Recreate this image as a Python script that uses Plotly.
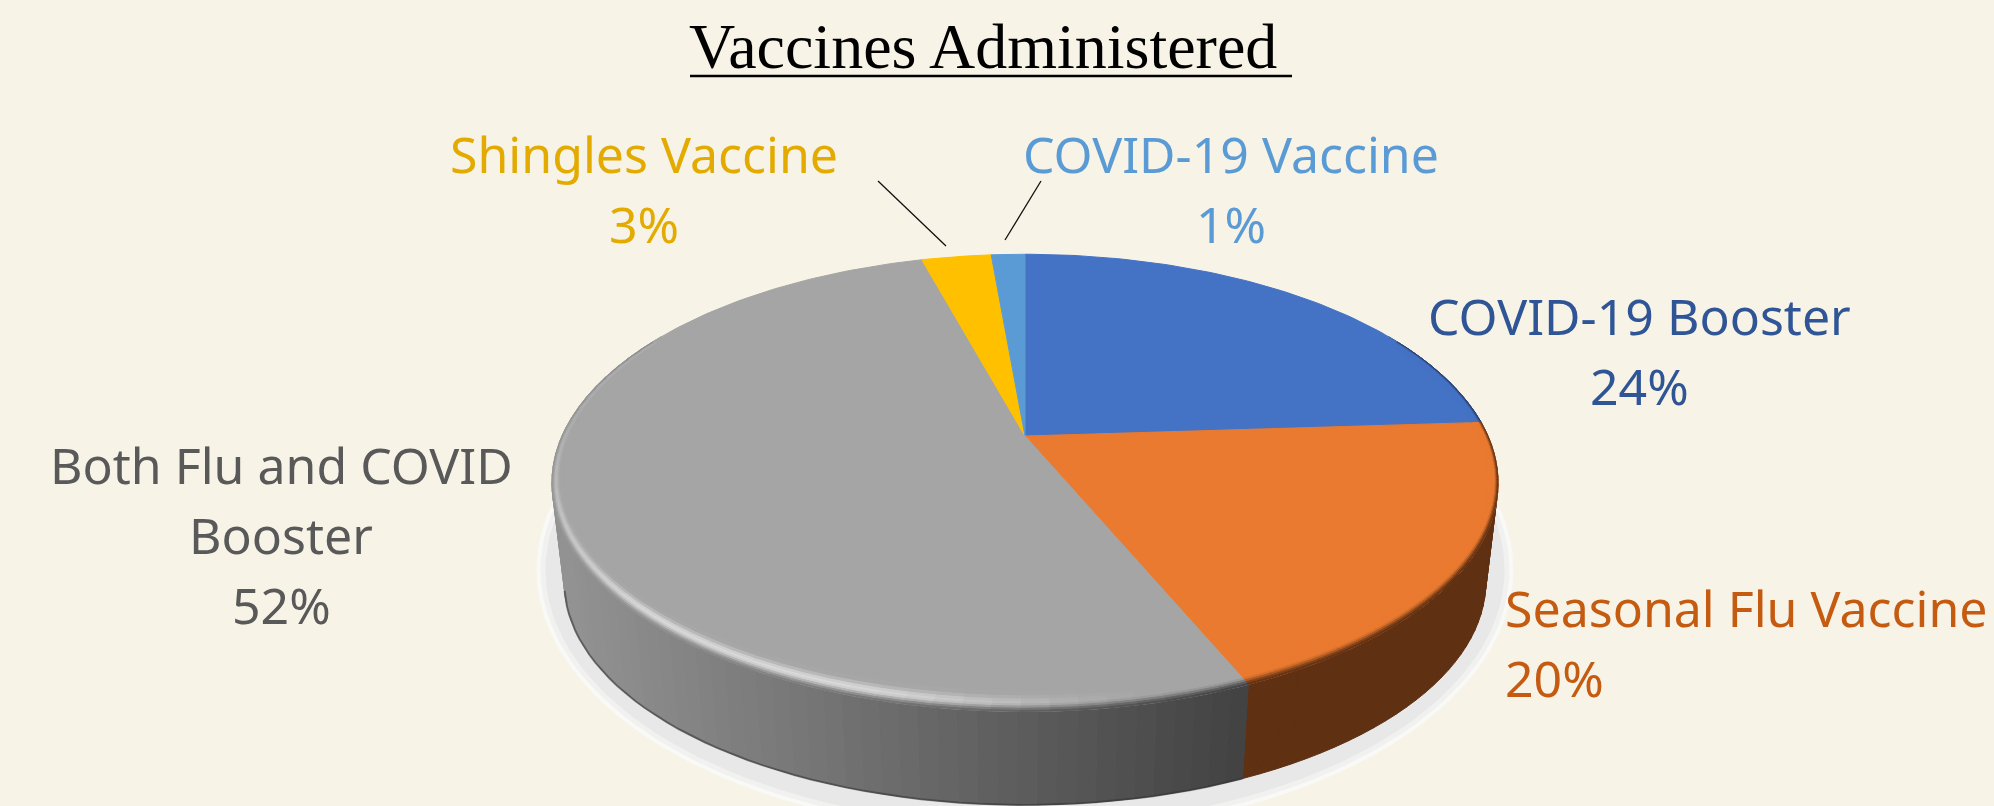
import math
import plotly.graph_objects as go

# ---- data ----
categories = ["COVID-19 Booster", "Seasonal Flu Vaccine", "Both Flu and COVID Booster", "Shingles Vaccine", "COVID-19 Vaccine"]
values = [24.0, 19.6, 52.1, 2.9, 1.4]
label_lines = [["COVID-19 Booster"], ["Seasonal Flu Vaccine"], ["Both Flu and COVID", "Booster"], ["Shingles Vaccine"], ["COVID-19 Vaccine"]]
title_text = "Vaccines Administered"

# ---- style ----
BG = "#F7F3E6"
top_colors = ["#4472C4", "#EA7A30", "#A5A5A5", "#FFC000", "#5B9BD5"]
text_colors = ["#2F5597", "#C55A11", "#595959", "#E3AA00", "#5B9BD5"]
label_pos = [(1639, 316, 70, "center"), (1503, 608, 70, "left"), (281, 465, 70, "center"), (644, 154, 70, "center"), (1231, 154, 70, "center")]
LABEL_SIZE = 50
K = 0.205
CX = 1025
TOP = dict(y0=436, r=463, s=219)
BOT = dict(y0=536.4, r=451, s=213.5)


def project(deg, g):
    a = math.radians(deg)
    u, v = math.sin(a), math.cos(a)
    d = 1 + K * v
    return CX + g["r"] * u / d, g["y0"] - g["s"] * v / d


def hexrgb(h):
    return tuple(int(h[i:i + 2], 16) for i in (1, 3, 5))


def mix(c1, c2, t):
    return tuple(c1[i] + (c2[i] - c1[i]) * t for i in range(3))


def css(c):
    return "rgb(%d,%d,%d)" % tuple(max(0, min(255, round(x))) for x in c)


def frange(a, b, step):
    n = max(1, int(math.ceil((b - a) / step)))
    return [a + (b - a) * i / n for i in range(n + 1)]


def wall_color(i, deg):
    if i == 2:
        x = project(deg, TOP)[0]
        t = max(0, min(1, (x - 565) / (1246 - 565)))
        return mix((146, 146, 146), (66, 66, 66), t)
    return {0: (40, 62, 110), 1: (95, 48, 18), 3: (120, 90, 0), 4: (45, 80, 115)}[i]


def poly(xs, ys, color):
    return go.Scatter(x=xs, y=ys, mode="lines", fill="toself", fillcolor=color,
                      line=dict(color=color, width=1), hoverinfo="skip", showlegend=False)


fig = go.Figure()

# cumulative angles, clockwise from the top
bounds = [0.0]
for val in values:
    bounds.append(bounds[-1] + val / sum(values) * 360)
spans = list(zip(bounds[:-1], bounds[1:]))

# soft shadow under the pie
for hw, hh, col in [(488, 264, "#F9F9F7"), (484, 260, "#F1F1F0"), (479, 255, "#E8E8E8")]:
    ang = frange(0, 360, 2)
    fig.add_trace(poly([CX + hw * math.sin(math.radians(t)) for t in ang],
                       [570 + hh * math.cos(math.radians(t)) for t in ang], col))

# side wall, in thin strips so the silhouette stays straight at the widest point
for i, (a0, a1) in enumerate(spans):
    lo, hi = max(a0, 60), min(a1, 300)
    if lo >= hi:
        continue
    angs = frange(lo, hi, 2)
    for p, q in zip(angs[:-1], angs[1:]):
        pts = [project(p, TOP), project(q, TOP), project(q, BOT), project(p, BOT), project(p, TOP)]
        fig.add_trace(poly([c[0] for c in pts], [c[1] for c in pts], css(wall_color(i, (p + q) / 2))))

# dark lower edge of the grey wall
edge = [project(t, BOT) for t in frange(spans[2][0], 256, 2)]
fig.add_trace(go.Scatter(x=[c[0] for c in edge], y=[c[1] for c in edge], mode="lines",
                         line=dict(color="rgba(50,50,50,0.55)", width=2), hoverinfo="skip", showlegend=False))

# top face
for i, (a0, a1) in enumerate(spans):
    pts = [(CX, TOP["y0"])] + [project(t, TOP) for t in frange(a0, a1, 1)] + [(CX, TOP["y0"])]
    fig.add_trace(poly([c[0] for c in pts], [c[1] for c in pts], top_colors[i]))


# bevelled rim: points are pulled toward the apex so slice borders stay straight
def rim_point(deg, w):
    x, y = project(deg, TOP)
    v = math.cos(math.radians(deg))
    c = w * (0.023 + 0.075 * max(0.0, -v) ** 2)
    return x + c * (CX - x), y + c * (TOP["y0"] - y)


def highlight(deg):
    if deg < 165:
        return 0.0
    if deg < 200:
        t = (deg - 165) / 35
        return t * t * (3 - 2 * t)
    if deg < 225:
        return 1.0
    return max(0.2, 1 - (deg - 225) / 60)


bands = [0.0, 0.08, 0.16, 0.24, 0.32, 0.4, 0.5, 0.62, 0.8, 1.0]
for i, (a0, a1) in enumerate(spans):
    lo, hi = max(a0, 62), min(a1, 298)
    if lo >= hi:
        continue
    angs = frange(lo, hi, 3)
    for p, q in zip(angs[:-1], angs[1:]):
        mid = (p + q) / 2
        base = hexrgb(top_colors[i])
        wall = wall_color(i, mid)
        for w0, w1 in zip(bands[:-1], bands[1:]):
            # w runs from the outer edge (0) to the inner flat face (1)
            wm = (w0 + w1) / 2
            t = max(0.0, min(1.0, (0.36 - wm) / 0.36))
            t = t * t * (3 - 2 * t)
            col = mix(base, wall, t)
            if i == 2:
                bump = math.exp(-((wm - 0.36) / 0.2) ** 2)
                col = mix(col, (226, 226, 226), 0.85 * highlight(mid) * bump)
            pts = [rim_point(p, w0), rim_point(q, w0), rim_point(q, w1), rim_point(p, w1), rim_point(p, w0)]
            fig.add_trace(poly([c[0] for c in pts], [c[1] for c in pts], css(col)))

# labels
ann = []
for i, lines in enumerate(label_lines):
    x, y, gap, align = label_pos[i]
    rows = lines + [f"{values[i]:.0f}%"]
    for j, row in enumerate(rows):
        ann.append(dict(x=x, y=y + j * gap, text=row, showarrow=False, xref="x", yref="y",
                        xanchor=align, yanchor="middle",
                        font=dict(family="Noto Sans", size=LABEL_SIZE, color=text_colors[i])))

ann.append(dict(x=983, y=46, text=title_text, showarrow=False, xref="x", yref="y",
                xanchor="center", yanchor="middle",
                font=dict(family="Liberation Serif", size=64, color="#000000")))

shapes = [
    dict(type="line", x0=690, x1=1292, y0=76, y1=76, line=dict(color="#000000", width=2.5)),
    dict(type="line", x0=878, x1=946, y0=181, y1=246, line=dict(color="#111111", width=1.3)),
    dict(type="line", x0=1041, x1=1005, y0=181, y1=240, line=dict(color="#111111", width=1.3)),
]

fig.update_layout(
    width=1994, height=806, margin=dict(l=0, r=0, t=0, b=0),
    paper_bgcolor=BG, plot_bgcolor=BG, showlegend=False,
    xaxis=dict(range=[0, 1994], visible=False, fixedrange=True),
    yaxis=dict(range=[806, 0], visible=False, fixedrange=True),
    annotations=ann, shapes=shapes,
)
fig.write_html("out.html", config=dict(displayModeBar=False),
               post_script="document.body.style.margin='0';document.body.style.overflow='hidden';")
